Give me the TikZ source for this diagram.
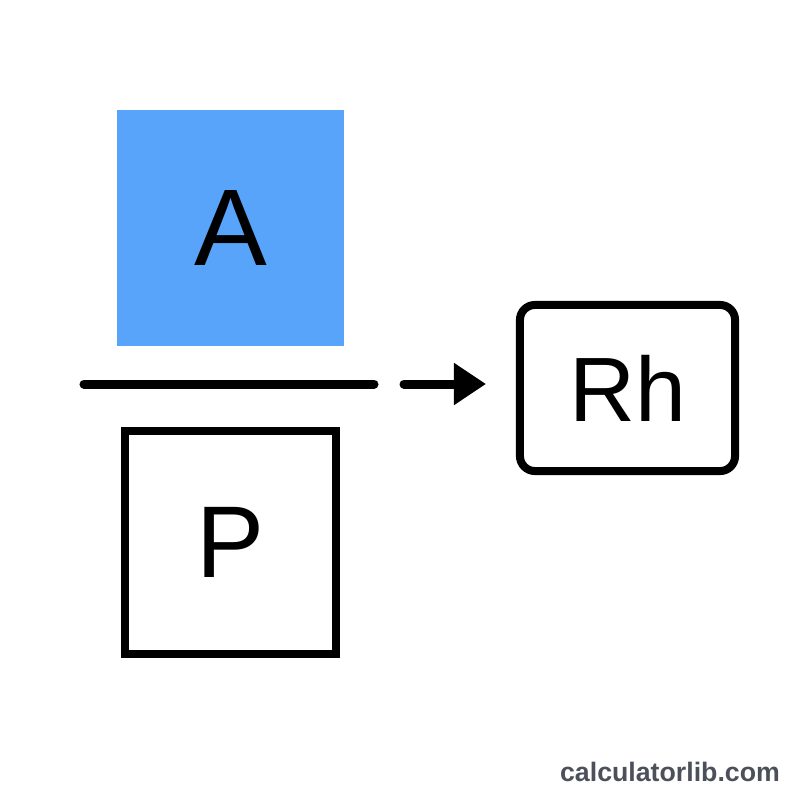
\documentclass[tikz,border=0pt]{standalone}
\usepackage{fontspec}
\setmainfont{Liberation Sans}
\usepackage{tikz}
\usetikzlibrary{arrows.meta}
\definecolor{numblue}{RGB}{88,164,250}
\definecolor{markgray}{RGB}{75,80,90}
\tikzset{
	numbox/.style={fill=numblue, minimum width=2.27cm, minimum height=2.36cm, inner sep=0pt},
	denbox/.style={draw, line width=0.08cm, minimum width=2.11cm, minimum height=2.23cm, inner sep=0pt},
	resbox/.style={draw, line width=0.08cm, rounded corners=0.15cm, minimum width=2.15cm, minimum height=1.66cm, inner sep=0pt},
	bar/.style={line width=0.09cm, line cap=round}
}

\begin{document}
\begin{tikzpicture}[x=0.01cm, y=-0.01cm]
	\useasboundingbox (0,0) rectangle (800,800);
	% Boxes and labels:
	\node[numbox, font=\fontsize{31}{36}\selectfont](A) at (230.5, 228){A};
	\node[denbox, font=\fontsize{29}{34}\selectfont](P) at (230.5, 542.5){P};
	\node[resbox, font=\fontsize{26}{31}\selectfont](Rh) at (627.5, 388){Rh};
	% Fraction bar and arrow:
	\coordinate (barL) at (84, 384);
	\coordinate (barR) at (374, 384);
	\coordinate (arrL) at (404, 384);
	\coordinate (arrR) at (486, 384);
	\draw[bar] (barL) -- (barR);
	\draw[bar, -{Triangle[length=0.32cm, width=0.40cm]}] (arrL) -- (arrR);
	% Watermark:
	\node[text=markgray, font=\bfseries\fontsize{7.6}{9}\selectfont](mark) at (670, 772){calculatorlib.com};
\end{tikzpicture}
\end{document}
